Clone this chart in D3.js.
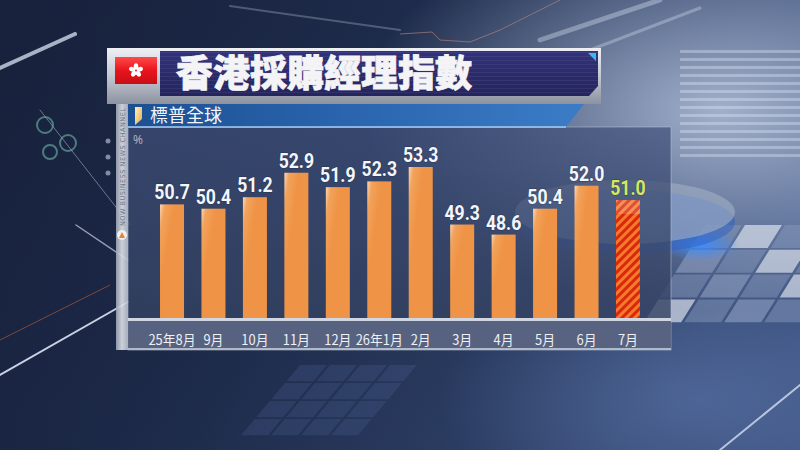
<!DOCTYPE html>
<html>
<head>
<meta charset="utf-8">
<script src="https://cdn.jsdelivr.net/npm/d3@7"></script>
<style>
  html, body { margin: 0; padding: 0; background: #16203a; }
  #chart { width: 800px; height: 450px; overflow: hidden; }
  text { font-family: "Noto Sans CJK TC", "Noto Sans", sans-serif; }
</style>
</head>
<body>
<div id="chart"></div>
<script>
// chart values
const title = "香港採購經理指數";
const subtitle = "標普全球";
const unitLabel = "%";
const channelText = "NOW BUSINESS NEWS CHANNEL";
const months = ["25年8月", "9月", "10月", "11月", "12月", "26年1月", "2月", "3月", "4月", "5月", "6月", "7月"];
const values = [50.7, 50.4, 51.2, 52.9, 51.9, 52.3, 53.3, 49.3, 48.6, 50.4, 52.0, 51.0];
const latest = "7月"; // newest reading, drawn hatched

const W = 800, H = 450;
const svg = d3.select('#chart').append('svg')
    .attr('width', W)
    .attr('height', H)
    .attr('viewBox', `0 0 ${W} ${H}`);

const defs = svg.append('defs');

function linGrad(id, x1, y1, x2, y2, stops) {
    const g = defs.append('linearGradient').attr('id', id)
        .attr('x1', x1).attr('y1', y1).attr('x2', x2).attr('y2', y2);
    stops.forEach(([o, c, op]) => g.append('stop').attr('offset', o)
        .attr('stop-color', c).attr('stop-opacity', op === undefined ? 1 : op));
}

function radGrad(id, color, op) {
    const g = defs.append('radialGradient').attr('id', id)
        .attr('cx', 0.5).attr('cy', 0.5).attr('r', 0.5);
    g.append('stop').attr('offset', 0).attr('stop-color', color).attr('stop-opacity', op);
    g.append('stop').attr('offset', 1).attr('stop-color', color).attr('stop-opacity', 0);
}

linGrad('bgGrad', 0, 0, 1, 0.5, [[0, '#1c2744'], [0.5, '#24355a'], [1, '#3e5482']]);
linGrad('bgLow', 0, 0, 1, 0, [[0, '#141d36', 0.6], [0.6, '#141d36', 0.3], [1, '#141d36', 0]]);
linGrad('silver', 0, 0, 0, 1, [[0, '#eef0f4'], [0.5, '#c4c8d2'], [1, '#8c92a0']]);
linGrad('navy', 0, 0, 0, 1, [[0, '#32327a'], [1, '#24245e']]);
linGrad('subGrad', 0, 0, 1, 0, [[0, '#1d4f92'], [0.6, '#2d6ab4'], [1, '#3c7cc6']]);
linGrad('stripGrad', 0, 0, 1, 0, [[0, '#9aa4b4'], [0.5, '#dfe3ea'], [1, '#b4bcc8']]);
linGrad('barGrad', 0, 0, 0.35, 0.3, [[0, '#fbd7b6'], [0.35, '#f2a35c'], [1, '#ef9446']]);
linGrad('flagGrad', 0, 0, 0, 1, [[0, '#ff4a4a'], [0.5, '#e8141c'], [1, '#c80e14']]);
linGrad('markGrad', 0, 0, 1, 1, [[0, '#fff1c8'], [1, '#e8a840']]);
linGrad('panelGrad', 0, 0, 0, 1, [[0, '#40507a', 0.72], [1, '#33415f', 0.82]]);
radGrad('glow', '#b4c2dc', 0.85);
radGrad('glowLow', '#5a74a8', 0.6);
radGrad('blueGlow', '#3a8cff', 0.9);

// hatching for the newest bar
const hatch = defs.append('pattern').attr('id', 'hatch')
    .attr('patternUnits', 'userSpaceOnUse')
    .attr('width', 6).attr('height', 6)
    .attr('patternTransform', 'rotate(45)');
hatch.append('rect').attr('width', 6).attr('height', 6).attr('fill', '#d8280e');
hatch.append('rect').attr('width', 3).attr('height', 6).attr('fill', '#f57a2a');

// fine scanlines on the title banner
const lines = defs.append('pattern').attr('id', 'scan')
    .attr('patternUnits', 'userSpaceOnUse').attr('width', 4).attr('height', 4);
lines.append('rect').attr('width', 4).attr('height', 1).attr('fill', '#ffffff').attr('opacity', 0.06);

// ---------- background ----------
const bg = svg.append('g');
bg.append('rect').attr('width', W).attr('height', H).attr('fill', 'url(#bgGrad)');
bg.append('rect').attr('x', 0).attr('y', 0).attr('width', W).attr('height', H)
    .attr('fill', 'url(#bgLow)');
bg.append('ellipse').attr('cx', 720).attr('cy', 110).attr('rx', 360).attr('ry', 200).attr('fill', 'url(#glow)');
bg.append('ellipse').attr('cx', 700).attr('cy', 400).attr('rx', 260).attr('ry', 120).attr('fill', 'url(#glowLow)');

// striped slab upper right
const slab = bg.append('g').attr('opacity', 0.35);
d3.range(0, 14).forEach(i => {
    slab.append('rect')
        .attr('x', 680).attr('y', 50 + i * 8)
        .attr('width', 120).attr('height', 3)
        .attr('fill', '#e8eef8');
});

// perspective tiles on the right
const tiles = bg.append('g')
    .attr('transform', 'translate(705,225) skewX(-32) scale(1,0.62)')
    .attr('opacity', 0.75);
d3.range(0, 4).forEach(r => d3.range(0, 4).forEach(c => {
    tiles.append('rect')
        .attr('x', c * 40).attr('y', r * 40)
        .attr('width', 37).attr('height', 37)
        .attr('fill', (r * 3 + c) % 4 === 1 ? '#e8ecf4' : '#8e9ec0')
        .attr('opacity', (r + c) % 2 ? 0.85 : 0.6);
}));
const tiles2 = bg.append('g')
    .attr('transform', 'translate(300,365) skewX(-40) scale(1,0.6)')
    .attr('opacity', 0.16);
d3.range(0, 4).forEach(r => d3.range(0, 4).forEach(c => {
    tiles2.append('rect')
        .attr('x', c * 30).attr('y', r * 30)
        .attr('width', 27).attr('height', 27).attr('fill', '#6a84c0');
}));

// disc
bg.append('ellipse').attr('cx', 700).attr('cy', 245).attr('rx', 40).attr('ry', 16)
    .attr('fill', 'url(#blueGlow)');
bg.append('ellipse').attr('cx', 625).attr('cy', 222).attr('rx', 110).attr('ry', 32)
    .attr('fill', '#2a60c8').attr('opacity', 0.5);
bg.append('ellipse').attr('cx', 625).attr('cy', 212).attr('rx', 110).attr('ry', 32)
    .attr('fill', '#a4b0c4').attr('opacity', 0.6);

// light streaks
const streaks = [
    [0, 68, 75, 34, 4, 0.7],
    [0, 375, 128, 302, 2, 0.85],
    [76, 225, 128, 260, 1.5, 0.6],
    [40, 110, 130, 225, 1, 0.4],
    [230, 6, 400, 30, 2, 0.25],
    [540, 40, 660, 0, 5, 0.35],
    [590, 50, 700, 8, 3, 0.3],
    [720, 450, 800, 385, 2, 0.7]
];
streaks.forEach(([x1, y1, x2, y2, w, o]) => {
    bg.append('line').attr('x1', x1).attr('y1', y1).attr('x2', x2).attr('y2', y2)
        .attr('stroke', '#e8f0ff').attr('stroke-width', w).attr('opacity', o)
        .attr('stroke-linecap', 'round');
});
bg.append('line').attr('x1', 0).attr('y1', 340).attr('x2', 110).attr('y2', 285)
    .attr('stroke', '#c0603a').attr('stroke-width', 1).attr('opacity', 0.6);
bg.append('path').attr('d', 'M400,34 L432,32 L440,40 L470,42 L500,30 L560,0')
    .attr('fill', 'none').attr('stroke', '#c89080').attr('stroke-width', 1).attr('opacity', 0.55);

// small gauges and dots on the left
[[45, 125, 8], [68, 143, 8], [50, 152, 7]].forEach(([cx, cy, r]) => {
    bg.append('circle').attr('cx', cx).attr('cy', cy).attr('r', r)
        .attr('fill', 'none').attr('stroke', '#6fb8a8').attr('stroke-width', 2).attr('opacity', 0.6);
});
[141, 157, 173].forEach(cy => {
    bg.append('circle').attr('cx', 108).attr('cy', cy).attr('r', 2.5)
        .attr('fill', '#c8d0e0').attr('opacity', 0.6);
});

// ---------- chart panel ----------
const panel = { x: 128, y: 127, w: 543, h: 223 };
const baseY = 318;

svg.append('rect')
    .attr('x', panel.x).attr('y', panel.y)
    .attr('width', panel.w).attr('height', panel.h)
    .attr('fill', 'url(#panelGrad)')
    .attr('stroke', '#b8c4d8').attr('stroke-opacity', 0.55).attr('stroke-width', 1);

// label strip below the baseline
svg.append('rect')
    .attr('x', panel.x).attr('y', baseY + 3)
    .attr('width', panel.w).attr('height', panel.y + panel.h - baseY - 3)
    .attr('fill', '#5e6886').attr('opacity', 0.85);
svg.append('rect')
    .attr('x', panel.x).attr('y', baseY)
    .attr('width', panel.w).attr('height', 3)
    .attr('fill', '#d0d6e2');
svg.append('rect')
    .attr('x', panel.x).attr('y', panel.y + panel.h - 2)
    .attr('width', panel.w).attr('height', 2)
    .attr('fill', '#c8d0dc').attr('opacity', 0.8);

const x = d3.scaleBand()
    .domain(months)
    .range([139.3, 660.7])
    .paddingInner(0.421)
    .paddingOuter(0.5);

const y = d3.scaleLinear()
    .domain([42.8, 53.3])
    .range([baseY, 167]);

const data = months.map((m, i) => ({ month: m, value: values[i] }));

svg.append('g')
    .selectAll('rect')
    .data(data)
    .join('rect')
    .attr('x', d => x(d.month))
    .attr('y', d => y(d.value))
    .attr('width', x.bandwidth())
    .attr('height', d => baseY - y(d.value))
    .attr('fill', d => d.month === latest ? 'url(#hatch)' : 'url(#barGrad)');

// soft highlight on top of the hatched bar
const last = data.find(d => d.month === latest);
svg.append('rect')
    .attr('x', x(last.month)).attr('y', y(last.value))
    .attr('width', x.bandwidth()).attr('height', 14)
    .attr('fill', '#ffffff').attr('opacity', 0.18);

// value labels
svg.append('g')
    .selectAll('text')
    .data(data)
    .join('text')
    .attr('transform', d => `translate(${x(d.month) + x.bandwidth() / 2},${y(d.value) - 5}) scale(0.84,1)`)
    .attr('text-anchor', 'middle')
    .style('font-family', 'Roboto, "Noto Sans", sans-serif')
    .style('font-weight', 'bold')
    .style('font-size', '21px')
    .attr('fill', d => d.month === latest ? '#d6e85c' : '#f4f6fa')
    .style('paint-order', 'stroke')
    .attr('stroke', '#1c2744').attr('stroke-opacity', 0.35).attr('stroke-width', 1.5)
    .text(d => d.value.toFixed(1));

// month axis
const xAxis = svg.append('g')
    .attr('transform', `translate(0,${baseY + 27})`)
    .call(d3.axisBottom(x).tickSize(0).tickPadding(0));
xAxis.select('.domain').remove();
xAxis.selectAll('text')
    .attr('fill', '#eef1f6')
    .attr('dy', 0)
    .attr('transform', 'scale(0.92,1)')
    .style('font-size', '14px')
    .style('font-family', '"Noto Sans CJK TC", sans-serif');

svg.append('text')
    .attr('x', 133).attr('y', 144)
    .attr('fill', '#a8b2c6')
    .style('font-size', '12px')
    .style('font-family', '"Noto Sans", sans-serif')
    .text(unitLabel);

// ---------- left channel strip ----------
svg.append('rect')
    .attr('x', 116).attr('y', 104).attr('width', 12).attr('height', 246)
    .attr('fill', 'url(#stripGrad)').attr('opacity', 0.9);
svg.append('text')
    .attr('transform', 'translate(124.5,226) rotate(-90)')
    .attr('fill', '#6c7488')
    .style('font-size', '6.5px')
    .style('font-family', '"DejaVu Sans", sans-serif')
    .style('letter-spacing', '0.5px')
    .text(channelText);
svg.append('circle').attr('cx', 122).attr('cy', 235).attr('r', 5).attr('fill', '#eef0f4');
svg.append('path').attr('d', 'M119,238 L122,232 L125,238 Z').attr('fill', '#e8842a');

// ---------- subtitle bar ----------
svg.append('path')
    .attr('d', 'M128,104 L584,104 L566,127 L128,127 Z')
    .attr('fill', 'url(#subGrad)');
svg.append('line')
    .attr('x1', 128).attr('y1', 127).attr('x2', 566).attr('y2', 127)
    .attr('stroke', '#a8cdf0').attr('stroke-width', 1.5);
svg.append('path')
    .attr('d', 'M135,107 L142,107 L142,119 L135,125 Z')
    .attr('fill', 'url(#markGrad)');
svg.append('text')
    .attr('x', 150).attr('y', 122)
    .attr('fill', '#f2f6fc')
    .style('font-size', '18px')
    .text(subtitle);

// ---------- title banner ----------
svg.append('rect')
    .attr('x', 107).attr('y', 48).attr('width', 494).attr('height', 56)
    .attr('fill', 'url(#silver)');
svg.append('path')
    .attr('d', 'M160,51 L598,51 L598,86 L589,96 L160,96 Z')
    .attr('fill', 'url(#navy)');
svg.append('path')
    .attr('d', 'M160,51 L598,51 L598,86 L589,96 L160,96 Z')
    .attr('fill', 'url(#scan)');
svg.append('path')
    .attr('d', 'M588,53 L596,53 L596,61 Z')
    .attr('fill', '#3cb6ec');

// flag
svg.append('rect')
    .attr('x', 115).attr('y', 57).attr('width', 42).attr('height', 27)
    .attr('fill', 'url(#flagGrad)');
const flower = svg.append('g').attr('transform', 'translate(136,70.5)');
d3.range(5).forEach(i => {
    flower.append('ellipse')
        .attr('cx', 0).attr('cy', -3.6)
        .attr('rx', 2.3).attr('ry', 3.6)
        .attr('transform', `rotate(${i * 72})`)
        .attr('fill', '#ffffff');
});
flower.append('circle').attr('r', 1).attr('fill', '#e8141c');

svg.append('text')
    .attr('x', 176).attr('y', 87)
    .attr('fill', '#f4f4f6')
    .style('font-size', '37px')
    .style('font-weight', '900')
    .attr('stroke', '#f4f4f6').attr('stroke-width', 0.8)
    .text(title);
</script>
</body>
</html>
